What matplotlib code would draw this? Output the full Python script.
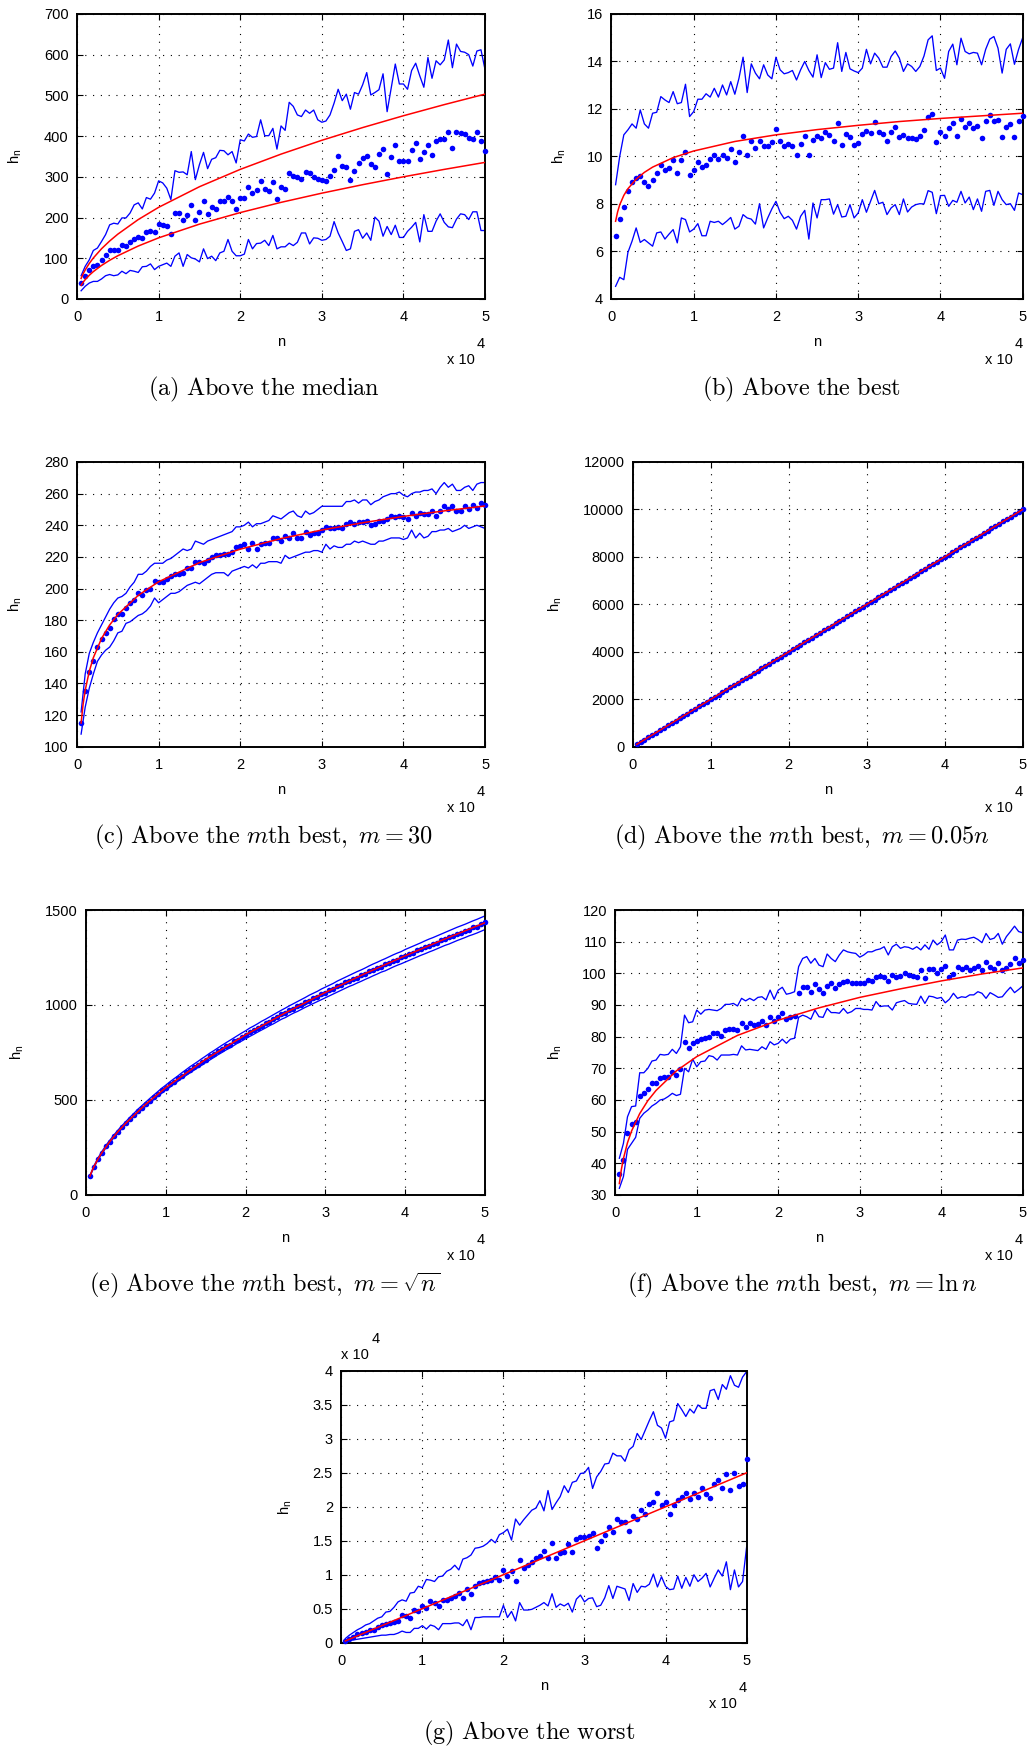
import numpy as np
import matplotlib
matplotlib.use("Agg")
import matplotlib.pyplot as plt
from matplotlib.ticker import FuncFormatter

plt.rcParams['font.family'] = ['Liberation Sans', 'DejaVu Sans']
plt.rcParams['mathtext.fontset'] = 'cm'

# sample sizes n = 500, 1000, ..., 50000
n = np.arange(500, 50001, 500)

# n values at which the fitted (red) curves are listed
n_fit = [500, 750, 1000, 1500, 2000, 3000, 4000, 5000, 7500, 10000,
         15000, 20000, 25000, 30000, 35000, 40000, 45000, 50000]

# (a) above the median
a_mean = [39, 56, 70, 80, 84, 95, 108, 121, 121, 121,
          132, 129, 141, 147, 151, 149, 164, 166, 164, 184,
          182, 178, 159, 210, 211, 195, 205, 230, 195, 213,
          240, 209, 225, 222, 240, 240, 250, 240, 220, 249,
          249, 274, 260, 267, 289, 271, 265, 287, 245, 276,
          271, 310, 301, 299, 294, 312, 309, 299, 295, 293,
          289, 301, 317, 352, 326, 323, 292, 314, 333, 347,
          352, 331, 325, 357, 368, 307, 348, 378, 339, 338,
          338, 366, 383, 343, 362, 379, 353, 388, 393, 393,
          409, 370, 411, 407, 406, 396, 393, 410, 389, 364]
a_hi = [57, 80, 96, 119, 125, 141, 158, 182, 186, 184,
        199, 199, 211, 231, 236, 221, 249, 245, 260, 290,
        285, 272, 244, 315, 311, 312, 305, 362, 293, 330,
        360, 320, 343, 347, 365, 364, 354, 362, 334, 391,
        388, 405, 397, 399, 440, 401, 401, 419, 368, 425,
        414, 483, 473, 452, 448, 464, 456, 464, 440, 434,
        437, 452, 481, 515, 487, 503, 466, 507, 503, 526,
        556, 501, 507, 514, 553, 460, 518, 577, 528, 528,
        515, 561, 579, 548, 520, 593, 542, 585, 575, 587,
        636, 568, 626, 608, 606, 600, 572, 609, 612, 563]
a_lo = [20, 31, 39, 43, 43, 49, 57, 60, 57, 59,
        68, 62, 70, 68, 65, 79, 80, 86, 72, 80,
        84, 88, 80, 105, 113, 80, 109, 101, 98, 91,
        123, 99, 105, 94, 113, 117, 146, 117, 106, 106,
        110, 146, 123, 136, 137, 144, 131, 156, 123, 128,
        128, 137, 131, 139, 162, 162, 135, 150, 149, 144,
        146, 154, 190, 162, 141, 119, 123, 166, 170, 149,
        162, 144, 201, 191, 154, 178, 158, 181, 151, 151,
        166, 176, 188, 140, 207, 166, 166, 191, 209, 188,
        177, 175, 196, 209, 207, 195, 214, 214, 168, 168]
a_fit_hi = [50.3, 61.6, 71.1, 87.1, 100.6, 123.2, 142.3, 159.1, 194.9, 225.0,
            275.6, 318.2, 355.7, 389.7, 420.9, 450.0, 477.3, 503.1]
a_fit_lo = [33.5, 41.1, 47.4, 58.1, 67.1, 82.2, 94.9, 106.1, 129.9, 150.0,
            183.7, 212.1, 237.2, 259.8, 280.6, 300.0, 318.2, 335.4]

# (b) above the best
b_mean = [6.64, 7.36, 7.86, 8.53, 8.91, 9.09, 9.16, 8.92, 8.74, 9.0,
          9.30, 9.66, 9.41, 9.51, 9.83, 9.30, 9.85, 10.2, 9.22, 9.41,
          9.78, 9.55, 9.66, 9.89, 10.04, 9.89, 10.07, 9.94, 10.31, 9.78,
          10.2, 10.87, 10.07, 10.65, 10.34, 10.63, 10.42, 10.45, 10.60, 11.15,
          10.63, 10.42, 10.53, 10.46, 10.07, 10.53, 10.88, 10.07, 10.70, 10.84,
          10.76, 11.05, 10.91, 10.65, 11.39, 10.50, 10.95, 10.81, 10.48, 10.56,
          10.95, 11.09, 11.0, 11.47, 11.04, 10.94, 10.65, 11.04, 11.22, 10.83,
          10.90, 10.79, 10.79, 10.73, 10.84, 11.12, 11.68, 11.78, 10.59, 11.01,
          10.84, 11.18, 11.42, 10.86, 11.57, 11.23, 11.39, 11.21, 11.30, 10.76,
          11.50, 11.74, 11.50, 11.54, 10.83, 11.23, 11.36, 10.81, 11.50, 11.70]
b_hi = [8.81, 10.0, 10.91, 11.12, 11.37, 11.19, 11.96, 11.37, 11.19, 11.82,
        11.86, 12.52, 12.38, 12.27, 12.73, 12.22, 12.27, 13.04, 11.68, 11.89,
        12.41, 12.41, 12.64, 12.50, 12.87, 12.50, 13.01, 12.59, 13.15, 12.62,
        13.29, 14.18, 12.69, 13.90, 13.51, 13.27, 13.86, 13.43, 13.27, 14.18,
        13.65, 13.48, 13.53, 13.62, 13.22, 13.65, 14.0, 13.62, 13.34, 14.28,
        13.32, 13.95, 13.67, 13.72, 14.79, 13.58, 14.38, 13.69, 13.60, 13.53,
        13.72, 14.51, 13.90, 14.35, 14.14, 13.76, 13.76, 14.21, 14.44, 14.14,
        13.58, 13.90, 13.79, 13.58, 13.79, 14.23, 14.91, 15.08, 13.62, 13.72,
        13.29, 14.42, 14.73, 13.86, 14.98, 14.42, 14.32, 14.38, 14.35, 13.86,
        14.51, 14.94, 15.05, 14.56, 13.51, 14.51, 14.74, 13.88, 14.51, 15.0]
b_lo = [4.53, 4.91, 4.81, 5.96, 6.43, 6.99, 6.38, 6.50, 6.36, 6.22,
        6.78, 6.82, 6.52, 6.73, 6.92, 6.36, 7.41, 7.34, 6.82, 6.94,
        7.17, 6.66, 6.66, 7.27, 7.22, 7.27, 7.13, 7.27, 7.43, 6.94,
        7.06, 7.55, 7.41, 7.36, 7.15, 8.01, 6.99, 7.41, 7.79, 8.11,
        7.65, 7.38, 7.48, 7.31, 6.94, 7.48, 7.73, 6.52, 8.04, 7.41,
        8.18, 8.18, 8.21, 7.57, 7.97, 7.45, 7.48, 7.97, 7.41, 7.62,
        8.18, 7.65, 8.11, 8.57, 8.01, 8.07, 7.55, 7.83, 7.97, 7.55,
        8.21, 7.66, 7.87, 7.97, 8.01, 8.0, 8.56, 8.49, 7.59, 8.35,
        8.36, 7.90, 8.15, 8.07, 8.53, 8.04, 8.29, 7.76, 8.21, 7.69,
        8.53, 8.57, 7.94, 8.53, 8.18, 7.97, 8.01, 7.73, 8.46, 8.39]
b_fit = [7.27, 7.67, 7.96, 8.36, 8.64, 9.04, 9.33, 9.55, 9.95, 10.23,
         10.63, 10.91, 11.13, 11.31, 11.47, 11.60, 11.71, 11.82]

# (c) above the m-th best, m = 30
c_mean = [115, 135, 147, 154, 163, 168, 172, 175, 181, 184,
          184, 188, 191, 193, 197, 196, 199, 200, 205, 204,
          204, 206, 208, 209, 209, 210, 213, 213, 217, 217,
          216, 218, 220, 221, 221, 222, 222, 223, 226, 227,
          228, 225, 229, 225, 228, 229, 229, 232, 232, 230,
          233, 232, 235, 232, 232, 236, 234, 235, 235, 237,
          239, 238, 238, 239, 238, 241, 242, 241, 242, 242,
          243, 240, 241, 243, 243, 244, 246, 245, 246, 245,
          244, 248, 246, 248, 247, 247, 249, 246, 249, 252,
          250, 252, 249, 249, 252, 250, 253, 251, 254, 253]
c_hi = [122, 146, 159, 166, 172, 177, 182, 187, 191, 194,
        195, 197, 201, 204, 209, 209, 211, 214, 216, 216,
        216, 218, 219, 221, 223, 225, 224, 225, 230, 229,
        228, 230, 231, 232, 233, 234, 235, 236, 239, 239,
        240, 242, 239, 241, 241, 242, 243, 246, 245, 244,
        246, 248, 249, 246, 245, 249, 247, 248, 250, 252,
        252, 252, 252, 252, 252, 255, 255, 256, 254, 256,
        256, 253, 255, 256, 258, 259, 260, 260, 261, 259,
        258, 260, 261, 261, 262, 262, 263, 260, 264, 267,
        264, 266, 262, 262, 264, 265, 262, 266, 267, 267]
c_lo = [108, 125, 137, 146, 154, 158, 161, 163, 167, 172,
        173, 178, 179, 181, 183, 184, 186, 189, 194, 191,
        193, 195, 197, 197, 198, 200, 202, 203, 204, 203,
        205, 207, 209, 210, 210, 210, 208, 211, 212, 213,
        214, 213, 215, 213, 216, 216, 217, 217, 217, 216,
        221, 219, 220, 221, 222, 223, 223, 224, 224, 223,
        228, 225, 227, 226, 226, 228, 228, 230, 229, 230,
        229, 228, 228, 230, 230, 231, 232, 232, 232, 231,
        232, 237, 232, 235, 232, 233, 236, 236, 237, 237,
        238, 236, 237, 238, 240, 238, 239, 240, 239, 238]
c_fit = [115.0, 127.1, 135.7, 147.7, 156.3, 168.4, 177.0, 183.6, 195.7, 204.3,
         216.4, 224.9, 231.6, 237.0, 241.6, 245.6, 249.1, 252.2]

# (d) above the m-th best, m = 0.05n
d_mean = [100, 200, 300, 400, 500, 600, 700, 800, 900, 1000,
          1100, 1200, 1300, 1400, 1500, 1600, 1700, 1800, 1900, 2000,
          2100, 2200, 2300, 2400, 2500, 2600, 2700, 2800, 2900, 3000,
          3100, 3200, 3300, 3400, 3500, 3600, 3700, 3800, 3900, 4000,
          4100, 4200, 4300, 4400, 4500, 4600, 4700, 4800, 4900, 5000,
          5100, 5200, 5300, 5400, 5500, 5600, 5700, 5800, 5900, 6000,
          6100, 6200, 6300, 6400, 6500, 6600, 6700, 6800, 6900, 7000,
          7100, 7200, 7300, 7400, 7500, 7600, 7700, 7800, 7900, 8000,
          8100, 8200, 8300, 8400, 8500, 8600, 8700, 8800, 8900, 9000,
          9100, 9200, 9300, 9400, 9500, 9600, 9700, 9800, 9900, 10000]
d_fit = [100, 150, 200, 300, 400, 600, 800, 1000, 1500, 2000,
         3000, 4000, 5000, 6000, 7000, 8000, 9000, 10000]

# (e) above the m-th best, m = sqrt(n)
e_mean = [98, 147, 190, 221, 256, 281, 310, 332, 358, 377,
          402, 419, 443, 459, 480, 495, 516, 531, 551, 563,
          583, 596, 614, 627, 645, 656, 674, 685, 702, 712,
          730, 740, 757, 766, 783, 792, 808, 817, 833, 842,
          858, 866, 881, 889, 904, 912, 927, 935, 951, 958,
          973, 980, 994, 1002, 1016, 1023, 1037, 1044, 1058, 1064,
          1078, 1085, 1099, 1105, 1119, 1126, 1138, 1144, 1157, 1163,
          1177, 1183, 1196, 1202, 1214, 1220, 1234, 1239, 1251, 1257,
          1270, 1275, 1288, 1293, 1306, 1311, 1323, 1328, 1341, 1346,
          1358, 1363, 1376, 1380, 1392, 1397, 1409, 1413, 1426, 1436]
e_hi = [103, 153, 194, 229, 260, 289, 315, 341, 364, 386,
        409, 429, 451, 470, 489, 508, 526, 544, 562, 578,
        595, 611, 626, 643, 658, 674, 688, 702, 717, 731,
        746, 759, 773, 787, 800, 813, 826, 839, 852, 864,
        878, 889, 901, 914, 925, 937, 949, 961, 973, 984,
        996, 1007, 1018, 1029, 1040, 1052, 1062, 1072, 1084, 1094,
        1104, 1114, 1126, 1136, 1146, 1156, 1166, 1176, 1185, 1195,
        1206, 1216, 1225, 1235, 1244, 1254, 1264, 1273, 1281, 1292,
        1301, 1310, 1319, 1328, 1338, 1347, 1355, 1364, 1373, 1382,
        1391, 1400, 1409, 1417, 1425, 1434, 1443, 1451, 1460, 1469]
e_lo = [97, 145, 184, 217, 248, 275, 301, 325, 348, 370,
        391, 411, 431, 450, 467, 486, 502, 520, 536, 552,
        567, 583, 598, 613, 628, 642, 656, 670, 683, 697,
        710, 723, 737, 749, 762, 773, 786, 799, 810, 822,
        834, 845, 857, 868, 879, 891, 901, 913, 925, 934,
        946, 957, 966, 977, 988, 998, 1008, 1018, 1028, 1038,
        1048, 1058, 1068, 1078, 1088, 1098, 1106, 1116, 1125, 1135,
        1144, 1154, 1163, 1173, 1180, 1190, 1200, 1209, 1217, 1226,
        1235, 1244, 1253, 1262, 1270, 1279, 1287, 1296, 1305, 1314,
        1321, 1330, 1339, 1347, 1355, 1364, 1371, 1379, 1388, 1397]
e_fit = [100, 126, 149, 189, 223, 282, 333, 378, 478, 565,
         714, 843, 959, 1066, 1166, 1259, 1348, 1433]

# (f) above the m-th best, m = ln n
f_mean = [36.6, 41.1, 49.5, 52.3, 53.2, 61.3, 62.3, 63.5, 65.3, 65.5,
          67.1, 67.2, 67.4, 68.9, 67.9, 69.8, 78.4, 76.3, 77.9, 78.7,
          79.2, 79.5, 80.0, 81.3, 81.1, 80.3, 82.1, 82.3, 82.4, 82.1,
          84.4, 83.2, 84.2, 83.7, 84.0, 84.9, 83.7, 86.3, 85.1, 86.3,
          87.6, 85.5, 86.3, 86.6, 93.7, 95.6, 95.6, 94.2, 96.5, 94.9,
          93.9, 96.1, 96.8, 95.5, 96.5, 97.4, 97.7, 96.8, 97.1, 97.1,
          97.1, 97.9, 97.6, 98.7, 99.2, 98.9, 97.6, 99.5, 98.9, 99.2,
          100.2, 99.5, 99.3, 98.7, 101.1, 98.4, 101.3, 101.4, 100.0, 101.3,
          102.3, 98.9, 99.8, 101.9, 101.3, 101.9, 101.1, 101.8, 102.3, 101.1,
          103.7, 102.1, 101.3, 103.2, 101.1, 101.6, 102.9, 104.9, 103.4, 104.2]
f_hi = [41.6, 46.3, 54.7, 57.9, 58.1, 68.6, 68.6, 70.0, 72.3, 72.6,
        74.4, 74.2, 74.4, 76.0, 74.7, 76.8, 86.8, 84.4, 84.7, 88.4,
        87.1, 88.4, 88.6, 88.4, 88.2, 88.9, 90.2, 90.2, 90.5, 89.7,
        92.1, 91.3, 92.1, 91.4, 92.4, 92.6, 91.6, 94.7, 91.8, 94.7,
        95.6, 93.4, 93.7, 94.2, 102.1, 104.7, 105.3, 103.2, 104.7, 102.6,
        102.1, 106.1, 104.7, 103.7, 105.8, 107.4, 106.8, 106.5, 106.3, 105.1,
        105.8, 106.8, 106.8, 107.4, 107.7, 108.4, 105.8, 108.4, 109.2, 107.9,
        108.4, 108.2, 107.6, 108.4, 107.4, 109.0, 107.6, 110.5, 109.0, 110.0,
        112.1, 107.4, 107.4, 110.5, 110.8, 110.7, 111.1, 111.4, 110.7, 109.7,
        112.6, 110.7, 111.1, 112.6, 109.2, 111.6, 113.2, 114.9, 113.2, 112.8]
f_lo = [32.1, 35.8, 44.4, 46.3, 48.2, 54.2, 55.8, 56.8, 58.1, 58.9,
        60.0, 60.3, 61.1, 62.1, 61.4, 61.8, 70.0, 68.9, 72.9, 70.5,
        72.1, 72.3, 74.0, 73.7, 72.6, 74.2, 74.2, 74.2, 74.4, 74.2,
        77.1, 75.8, 76.0, 75.8, 75.6, 76.8, 76.0, 78.4, 77.4, 77.9,
        79.2, 77.9, 79.2, 79.5, 86.1, 86.8, 86.3, 85.5, 88.4, 86.3,
        86.1, 88.9, 87.6, 87.6, 87.4, 88.9, 87.4, 87.9, 88.9, 88.9,
        88.6, 88.6, 88.4, 91.1, 89.5, 89.7, 89.7, 88.4, 90.7, 91.1,
        91.4, 90.5, 90.3, 90.2, 92.8, 90.5, 92.8, 92.6, 92.1, 92.4,
        90.7, 91.8, 93.7, 92.1, 92.6, 92.4, 93.2, 93.2, 94.2, 93.7,
        92.1, 93.9, 93.2, 92.4, 92.6, 94.2, 95.6, 93.9, 94.9, 96.0]
f_fit = [33.6, 38.1, 41.5, 46.5, 50.2, 55.7, 59.8, 63.0, 69.2, 73.7,
         80.4, 85.2, 89.1, 92.4, 95.1, 97.6, 99.8, 101.7]

# (g) above the worst
g_mean = [300, 600, 900, 1200, 1400, 1600, 1800, 1900, 2300, 2600,
          2800, 2900, 3100, 3200, 4100, 3900, 3700, 4800, 4600, 5400,
          5100, 6100, 5900, 5400, 6300, 6300, 6500, 6900, 7300, 6600,
          7900, 7200, 8300, 8800, 9000, 9100, 9200, 9600, 9200, 10700,
          9800, 10600, 9100, 12100, 11000, 11400, 11900, 12400, 12800, 13500,
          12400, 14600, 12400, 13200, 13400, 14500, 13300, 15200, 15500, 15500,
          15700, 16200, 14000, 15000, 15900, 17000, 16300, 18200, 17800, 17700,
          16400, 18600, 18200, 19600, 19000, 20400, 20700, 22100, 20200, 20700,
          18900, 20200, 21000, 21500, 22000, 21100, 22100, 21500, 22700, 21900,
          21300, 23300, 24000, 22700, 24900, 22500, 25000, 23100, 23300, 27000]
g_hi = [600, 1100, 1500, 1900, 2200, 2600, 2800, 3200, 3600, 3800,
        4500, 4600, 5200, 6000, 6300, 6100, 7300, 7400, 8300, 8100,
        9300, 9200, 9000, 9700, 9800, 10500, 10800, 11400, 10700, 12300,
        12500, 12900, 13900, 14000, 14200, 14600, 15200, 14700, 15900, 16200,
        16700, 15100, 18200, 17300, 18100, 18800, 19500, 19800, 20900, 19400,
        22400, 19600, 20600, 21500, 23100, 22100, 23600, 23800, 24900, 25000,
        25800, 22700, 24400, 25200, 26300, 26400, 27900, 27500, 27500, 26700,
        28400, 28900, 30800, 29900, 31300, 32700, 34000, 32000, 31600, 30100,
        32500, 32700, 35200, 34300, 33300, 34400, 33800, 35000, 34500, 34500,
        37100, 37300, 35800, 38000, 37300, 39300, 37900, 37600, 39100, 39900]
g_lo = [100, 300, 400, 500, 600, 700, 800, 900, 1000, 1100,
        1100, 1200, 1200, 1400, 1700, 1500, 1500, 2100, 2100, 2500,
        2000, 2600, 2400, 1900, 2800, 2800, 2800, 2900, 2900, 2500,
        3400, 1900, 3700, 3700, 3800, 3800, 3800, 3800, 3800, 5500,
        3700, 4600, 3200, 5900, 4800, 4800, 4900, 5200, 5500, 5900,
        5400, 7200, 5200, 5700, 5400, 5800, 4500, 6400, 7000, 6000,
        6500, 6600, 5300, 5500, 6600, 8400, 6500, 8300, 8100, 7900,
        6200, 8700, 7400, 8300, 8200, 8600, 10100, 8200, 9700, 8300,
        7800, 7900, 9800, 8000, 9600, 8300, 10000, 9000, 9500, 10200,
        8200, 9500, 10700, 9800, 11900, 7800, 10700, 8200, 9000, 14100]
g_fit = [250, 375, 500, 750, 1000, 1500, 2000, 2500, 3750, 5000,
         7500, 10000, 12500, 15000, 17500, 20000, 22500, 25000]

fig = plt.figure(figsize=(10.27, 17.46), dpi=100)
FS = 10.5


def panel(rect, mean, hi, lo, fits, ylim, ystep, ylab_dx, yscale=1.0):
    ax = fig.add_axes(rect)
    ax.plot(n, hi, color='b', lw=0.95, zorder=2)
    ax.plot(n, lo, color='b', lw=0.95, zorder=2)
    ax.plot(n, mean, 'o', color='b', ms=4.0, mew=0, zorder=3, clip_on=False)
    for f in fits:
        ax.plot(n_fit, f, color='r', lw=1.1, zorder=4)
    ax.set_xlim(0, 50000)
    ax.set_ylim(ylim)
    ax.set_xticks(np.arange(0, 50001, 10000))
    ax.set_yticks(np.arange(ylim[0], ylim[1] + ystep / 2, ystep))
    ax.xaxis.set_major_formatter(FuncFormatter(lambda v, p: '%g' % (v / 1e4)))
    ax.yaxis.set_major_formatter(FuncFormatter(lambda v, p: '%g' % (v / yscale)))
    ax.grid(True, color='k', ls=(0, (1, 6)), lw=0.8)
    ax.tick_params(direction='in', top=True, right=True, length=4, width=0.8,
                   labelsize=FS)
    ax.tick_params(axis='x', pad=8)
    ax.tick_params(axis='y', pad=6)
    for s in ax.spines.values():
        s.set_linewidth(1.4)
    kw = dict(xycoords='axes fraction', textcoords='offset pixels', fontsize=FS)
    ax.annotate('n', (0.5, 0), xytext=(0, -43), ha='center', va='center', **kw)
    ax.annotate('x 10', (1, 0), xytext=(-10, -65), ha='right', va='baseline', **kw)
    ax.annotate('4', (1, 0), xytext=(0, -49), ha='right', va='baseline', **kw)
    ax.annotate(r'h$_\mathregular{n}$', (0, 0.5), xytext=(-ylab_dx, 0),
                rotation=90, ha='center', va='center', **kw)
    return ax


def caption(x, y, s):
    fig.text(x / 1027, 1 - y / 1746, s, ha='center', va='baseline', fontsize=17.5)


panel([0.0750, 0.8288, 0.3973, 0.1632], a_mean, a_hi, a_lo, [a_fit_hi, a_fit_lo],
      (0, 700), 100, 62)
panel([0.5954, 0.8288, 0.4004, 0.1632], b_mean, b_hi, b_lo, [b_fit],
      (4, 16), 2, 52)
panel([0.0750, 0.5723, 0.3973, 0.1631], c_mean, c_hi, c_lo, [c_fit],
      (100, 280), 20, 62)
panel([0.6161, 0.5723, 0.3797, 0.1631], d_mean, d_mean, d_mean, [d_fit],
      (0, 12000), 2000, 77)
panel([0.0837, 0.3156, 0.3885, 0.1632], e_mean, e_hi, e_lo, [e_fit],
      (0, 1500), 500, 69)
panel([0.5991, 0.3156, 0.3967, 0.1632], f_mean, f_hi, f_lo, [f_fit],
      (30, 120), 10, 60)
ax_g = panel([0.3323, 0.0592, 0.3947, 0.1556], g_mean, g_hi, g_lo, [g_fit],
             (0, 40000), 5000, 56, yscale=1e4)
kw = dict(xycoords='axes fraction', textcoords='offset pixels', fontsize=FS)
ax_g.annotate('x 10', (0, 1), xytext=(0, 12), ha='left', va='baseline', **kw)
ax_g.annotate('4', (0, 1), xytext=(30, 28), ha='left', va='baseline', **kw)

caption(264, 395, r'$\mathrm{(a)\ Above\ the\ median}$')
caption(801, 395, r'$\mathrm{(b)\ Above\ the\ best}$')
caption(264, 843, r'$\mathrm{(c)\ Above\ the\ }m\mathrm{th\ best,\ }m=30$')
caption(802, 843, r'$\mathrm{(d)\ Above\ the\ }m\mathrm{th\ best,\ }m=0.05n$')
caption(265, 1291, r'$\mathrm{(e)\ Above\ the\ }m\mathrm{th\ best,\ }m=\sqrt{n}$')
caption(802, 1291, r'$\mathrm{(f)\ Above\ the\ }m\mathrm{th\ best,\ }m=\ln n$')
caption(529, 1739, r'$\mathrm{(g)\ Above\ the\ worst}$')

fig.savefig('out.png', dpi=100)
